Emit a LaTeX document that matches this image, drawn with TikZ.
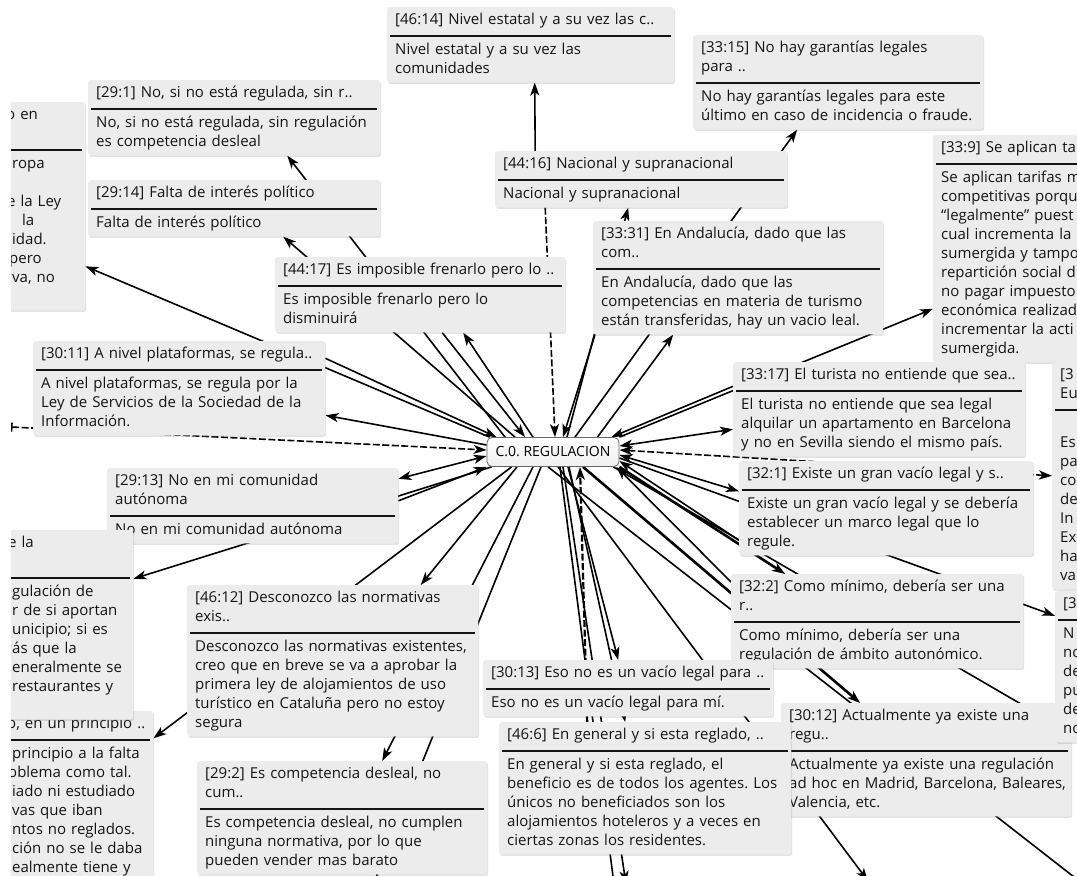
\documentclass[tikz,border=0pt]{standalone}
\usepackage{fontspec}
\setmainfont{Open Sans}
\usetikzlibrary{arrows.meta,shadows,calc}
\definecolor{boxfill}{RGB}{236,236,236}
\frenchspacing
\pgfdeclarelayer{bg0}
\pgfdeclarelayer{lines}
\pgfsetlayers{bg0,lines,main}
\tikzset{
  qbox/.style={anchor=north west, fill=boxfill, rounded corners=2.5pt, inner xsep=3pt, inner ysep=3.5pt,
    font=\fontsize{15}{19}\selectfont, text=black!92,
    drop shadow={shadow xshift=1pt, shadow yshift=-1.5pt, opacity=0.22}},
  cnode/.style={draw=black!60, line width=0.8pt, rounded corners=5pt, top color=white, bottom color=black!6,
    minimum width=132pt, minimum height=29pt, inner sep=0pt, font=\fontsize{14}{17}\selectfont},
  con/.style={draw=black, line width=1.6pt},
  ar/.style={con, -{Stealth[length=13pt,width=9pt,inset=3.5pt]}},
  arr/.style={con, {Stealth[length=13pt,width=9pt,inset=3.5pt]}-{Stealth[length=13pt,width=9pt,inset=3.5pt]}},
  heavy/.style={line width=2.6pt},
  dsh/.style={dash pattern=on 7pt off 2.5pt},
  edgeconn/.style={con, dsh, {Bar[width=9pt]}-{Stealth[length=13pt,width=9pt,inset=3.5pt]}},
}
\newcommand\qtab[1]{\hspace*{5pt}\begin{tabular}[t]{@{}l@{}}#1\end{tabular}}
\newcommand\qbox[7]{\pgfmathsetmacro\qbw{#5-6}%
  \node[qbox,#1,text width=\qbw pt] (#2) at (#3,#4) {\qtab{#6}\par\vspace{4.8pt}\hrule height 2.2pt\vspace{4.2pt}\noindent\qtab{#7}};}
\begin{document}
\begin{tikzpicture}[x=1pt,y=-1pt]
\useasboundingbox (0,0) rectangle (1077,876);
\begin{pgfonlayer}{bg0}
\fill[white] (0,0) rectangle (1077,876);
\end{pgfonlayer}
\clip (11,0) rectangle (1077,876);
% central node
\node[cnode] (C) at (553,452) {C.0. REGULACION};
% boxes
\qbox{}{B4614}{387}{7}{287}{[46:14] Nivel estatal y a su vez las c..}{Nivel estatal y a su vez las\\comunidades}
\qbox{}{B3315}{693}{35}{290}{[33:15] No hay garantías legales\\para ..}{No hay garantías legales para este\\último en caso de incidencia o fraude.}
\qbox{}{B291}{88}{80}{292}{[29:1] No, si no está regulada, sin r..}{No, si no está regulada, sin regulación\\es competencia desleal}
\qbox{}{B2914}{88}{180}{292}{[29:14] Falta de interés político}{Falta de interés político}
\qbox{}{L1}{4}{102}{81}{\hspace*{-6pt}o en\\\mbox{}}{ropa\\\mbox{}\\\hspace*{-5pt}e la Ley\\\hspace*{10pt}la\\idad.\\\hspace*{-3pt}pero\\va, no\\\mbox{}}
\qbox{}{B4416}{495}{151}{292}{[44:16] Nacional y supranacional}{Nacional y supranacional}
\qbox{}{B339}{933}{135}{290}{[33:9] Se aplican ta}{Se aplican tarifas m\\competitivas porqu\\“legalmente” puest\\cual incrementa la\\sumergida y tampo\\repartición social d\\no pagar impuesto\\económica realizad\\incrementar la acti\\sumergida.}
\qbox{}{B4417}{275}{257}{290}{[44:17] Es imposible frenarlo pero lo ..}{Es imposible frenarlo pero lo\\disminuirá}
\qbox{}{B3331}{593}{221}{290}{[33:31] En Andalucía, dado que las\\com..}{En Andalucía, dado que las\\competencias en materia de turismo\\están transferidas, hay un vacio leal.}
\qbox{}{B3011}{33}{341}{292}{[30:11] A nivel plataformas, se regula..}{A nivel plataformas, se regula por la\\Ley de Servicios de la Sociedad de la\\Información.}
\qbox{}{B3317}{733}{362}{292}{[33:17] El turista no entiende que sea..}{El turista no entiende que sea legal\\alquilar un apartamento en Barcelona\\y no en Sevilla siendo el mismo país.}
\qbox{}{R1}{1052}{362}{290}{[3\\Eu}{\mbox{}\\Es\\pa\\co\\de\\In\\Ex\\ha\\va}
\qbox{}{B321}{739}{461}{294}{[32:1] Existe un gran vacío legal y s..}{Existe un gran vacío legal y se debería\\establecer un marco legal que lo\\regule.}
\qbox{}{B2913}{107}{468}{291}{[29:13] No en mi comunidad\\autónoma}{No en mi comunidad autónoma}
\qbox{}{L3}{4}{711}{149}{\hspace*{-5pt}o, en un principio ..}{principio a la falta\\\hspace*{-4pt}oblema como tal.\\iado ni estudiado\\vas que iban\\ntos no reglados.\\ción no se le daba\\ealmente tiene y}
\qbox{}{L2}{4}{530}{129}{\hspace*{-4pt}e la\\\mbox{}}{gulación de\\r de si aportan\\unicipio; si es\\ás que la\\eneralmente se\\restaurantes y\\\mbox{}}
\qbox{}{B4612}{187}{585}{291}{[46:12] Desconozco las normativas\\exis..}{Desconozco las normativas existentes,\\creo que en breve se va a aprobar la\\primera ley de alojamientos de uso\\turístico en Cataluña pero no estoy\\segura}
\qbox{}{B322}{731}{574}{292}{[32:2] Como mínimo, debería ser una\\r..}{Como mínimo, debería ser una\\regulación de ámbito autonómico.}
\qbox{}{B3013}{483}{660}{290}{[30:13] Eso no es un vacío legal para ..}{Eso no es un vacío legal para mí.}
\qbox{}{B3012}{781}{703}{290}{[30:12] Actualmente ya existe una\\regu..}{Actualmente ya existe una regulación\\ad hoc en Madrid, Barcelona, Baleares,\\Valencia, etc.}
\qbox{}{B466}{499}{722}{292}{[46:6] En general y si esta reglado, ..}{En general y si esta reglado, el\\beneficio es de todos los agentes. Los\\únicos no beneficiados son los\\alojamientos hoteleros y a veces en\\ciertas zonas los residentes.}
\qbox{}{R2}{1055}{591}{290}{[3}{N\\no\\de\\pu\\de\\no}
\qbox{}{B292}{197}{761}{290}{[29:2] Es competencia desleal, no\\cum..}{Es competencia desleal, no cumplen\\ninguna normativa, por lo que\\pueden vender mas barato}
% free ends
\coordinate (edgeL) at (11,427);
\coordinate (bot1) at (375,880);
\coordinate (bot2) at (626,884);
\coordinate (bot3) at (614,884);
\coordinate (bot4) at (868,881);
\coordinate (bot5) at (1110,905);
\coordinate (rt1) at (1100,750);
% connectors
\begin{pgfonlayer}{lines}
\begin{scope}
\clip (11,0) rectangle (1077,876);
\draw[ar] ([xshift=3pt]C.north west) -- ([yshift=-60pt]L1.east);
\draw[ar] ([xshift=-48pt]C.north) -- ([xshift=53pt]B291.south);
\draw[ar] ([xshift=-38pt]C.north) -- ([xshift=49pt]B2914.south);
\draw[ar] ([xshift=-20pt]C.north) -- ([xshift=43pt]B4417.south);
\draw[ar] ([xshift=22pt]B4417.south) -- ([xshift=-28pt]C.north);
\draw[ar] ([yshift=30pt]B3011.east) -- ([xshift=10pt]C.north west);
\draw[ar] ([yshift=7pt]C.west) -- ([yshift=-27pt]B3011.east);
\draw[edgeconn] (edgeL) -- ([yshift=2pt]C.west);
\draw[arr] ([yshift=-4pt]C.west) -- ([yshift=27pt]B2913.east);
\draw[ar] ([yshift=5pt]B2913.east) -- (C.south west);
\draw[ar] ([xshift=5pt]C.south west) -- ([yshift=46pt]L2.east);
\draw[ar] ([xshift=25pt]C.south west) -- ([yshift=58pt]L3.east);
\draw[ar] ([xshift=-36pt]C.south) -- ([xshift=88pt]B4612.north);
\draw[ar] ([xshift=-20pt]C.south) -- ([xshift=40pt]B292.north);
\draw[con] ([xshift=-12pt]C.south) -- (bot1);
\draw[ar,dsh,line width=2.2pt] ([xshift=-58pt]B466.north) -- ([xshift=27pt]C.south);
\draw[ar] ([xshift=15pt]C.south) -- ([xshift=-10pt]B3013.north);
\draw[ar] ([xshift=16pt]C.south) -- ([xshift=-20pt]B466.north);
\draw[ar] ([xshift=10pt]C.south) -- (bot2);
\draw[con] ([xshift=7pt]C.south) -- (bot3);
\draw[ar] ([xshift=5pt]C.south) -- (bot4);
\draw[con] ([xshift=-5pt]C.south) -- (bot5);
\draw[ar,heavy] ([xshift=30pt]C.south) -- ([xshift=-66pt]B3012.north);
\draw[con] ([xshift=-6pt]C.south east) -- (rt1);
\draw[ar,heavy] (C.south east) -- ([xshift=-92pt]B322.north);
\draw[ar] ([yshift=-8pt]B322.north west) -- ([xshift=-3pt]C.south east);
\draw[ar] ([yshift=-6pt]C.east) -- ([yshift=51pt]R2.west);
\draw[ar] ([yshift=-32pt]B321.west) -- ([yshift=-9pt]C.east);
\draw[arr] ([yshift=-3pt]C.east) -- ([yshift=17pt]B321.west);
\draw[arr,dsh] ([yshift=2pt]C.east) -- (R1.west);
\draw[arr] ([yshift=6pt]C.east) -- ([yshift=-20pt]B3317.west);
\draw[ar] ([yshift=23pt]B3317.west) -- ([xshift=-8pt]C.north east);
\draw[ar] (C.north east) -- ([yshift=-60pt]B339.west);
\draw[ar] ([xshift=-22pt]C.north east) -- ([xshift=-65pt]B3331.south);
\draw[ar] ([xshift=2pt]B3331.south west) -- ([xshift=10pt]C.north);
\draw[ar] ([xshift=14pt]C.north) -- ([xshift=-13pt]B4416.south);
\draw[ar,dsh] ([xshift=-96pt]B4416.south) -- ([xshift=2pt]C.north);
\draw[ar] ([xshift=22pt]C.north) -- ([xshift=-41pt]B3315.south);
\draw[ar] ([xshift=-106pt]B4416.north) -- ([xshift=4pt]B4614.south);
\end{scope}
\end{pgfonlayer}
\end{tikzpicture}
\end{document}
